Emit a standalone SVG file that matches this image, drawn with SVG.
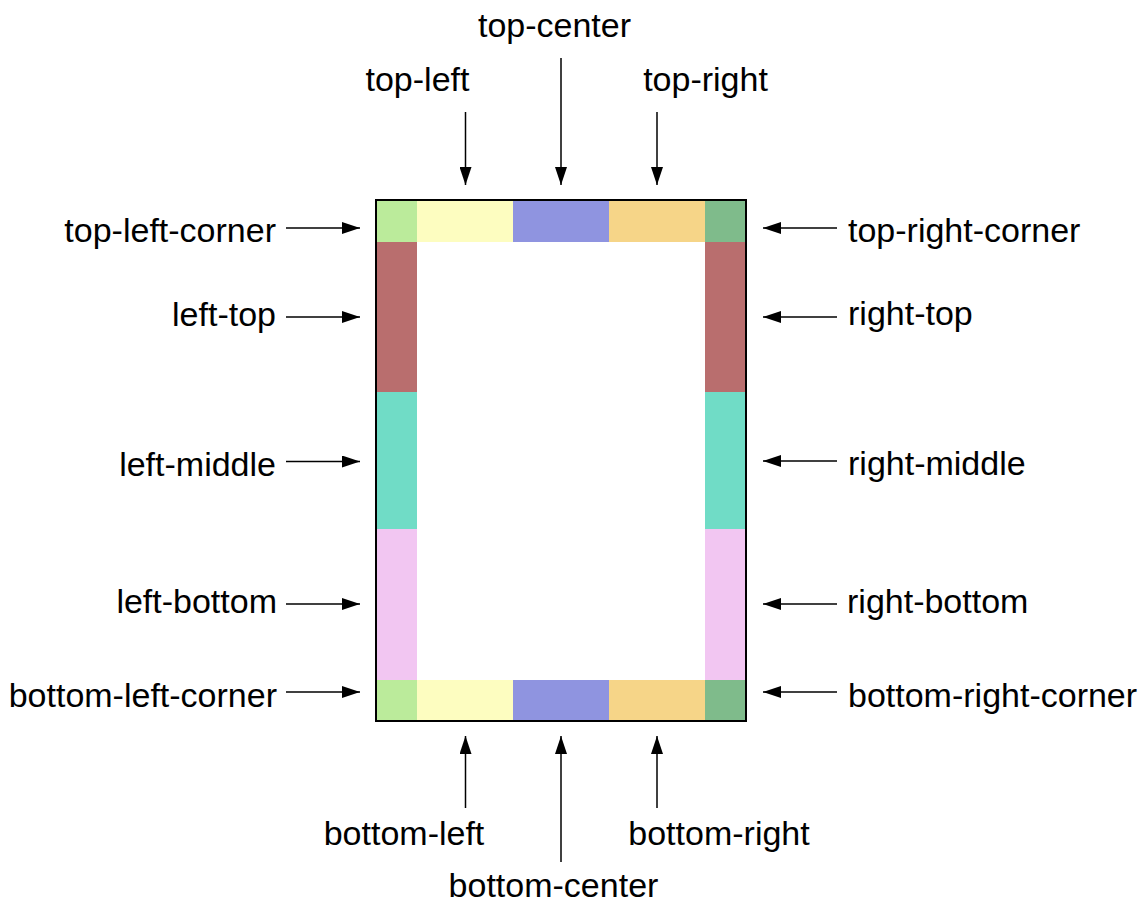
<svg xmlns="http://www.w3.org/2000/svg" width="1144" height="902" viewBox="0 0 1144 902">
<style>
text{font-family:"Liberation Sans",Arial,sans-serif;font-size:34px;fill:#000}
.c line{stroke:#000;stroke-width:1.5;marker-end:url(#ah)}
.e{text-anchor:end}
.m{text-anchor:middle}
</style>
<defs>
<marker id="ah" markerUnits="userSpaceOnUse" markerWidth="18" markerHeight="12" refX="18" refY="6" orient="auto">
<path d="M0,0 L18,6 L0,12 z" fill="#000"/>
</marker>
</defs>
<rect width="1144" height="902" fill="#fff"/>
<g id="box">
<rect id="top-left-corner" x="377" y="201" width="40" height="41" fill="#bbeb9b"/>
<rect id="top-left" x="417" y="201" width="96" height="41" fill="#fdfdc0"/>
<rect id="top-center" x="513" y="201" width="96" height="41" fill="#8f94e0"/>
<rect id="top-right" x="609" y="201" width="96" height="41" fill="#f6d588"/>
<rect id="top-right-corner" x="705" y="201" width="40" height="41" fill="#7fbb8b"/>
<rect id="left-top" x="377" y="242" width="40" height="150" fill="#b96e6e"/>
<rect id="left-middle" x="377" y="392" width="40" height="137" fill="#70dcc6"/>
<rect id="left-bottom" x="377" y="529" width="40" height="151" fill="#f2c6f2"/>
<rect id="right-top" x="705" y="242" width="40" height="150" fill="#b96e6e"/>
<rect id="right-middle" x="705" y="392" width="40" height="137" fill="#70dcc6"/>
<rect id="right-bottom" x="705" y="529" width="40" height="151" fill="#f2c6f2"/>
<rect id="bottom-left-corner" x="377" y="680" width="40" height="40" fill="#bbeb9b"/>
<rect id="bottom-left" x="417" y="680" width="96" height="40" fill="#fdfdc0"/>
<rect id="bottom-center" x="513" y="680" width="96" height="40" fill="#8f94e0"/>
<rect id="bottom-right" x="609" y="680" width="96" height="40" fill="#f6d588"/>
<rect id="bottom-right-corner" x="705" y="680" width="40" height="40" fill="#7fbb8b"/>
<rect x="376" y="200" width="370" height="521" fill="none" stroke="#000" stroke-width="2"/>
</g>
<g id="connectors" class="c">
<line x1="465.5" y1="112" x2="465.5" y2="185"/>
<line x1="561" y1="58" x2="561" y2="185"/>
<line x1="657" y1="112" x2="657" y2="185"/>
<line x1="465.5" y1="808" x2="465.5" y2="736"/>
<line x1="561" y1="862" x2="561" y2="736"/>
<line x1="657" y1="808" x2="657" y2="736"/>
<line x1="286" y1="228" x2="360" y2="228"/>
<line x1="286" y1="317" x2="360" y2="317"/>
<line x1="286" y1="461.5" x2="360" y2="461.5"/>
<line x1="286" y1="604" x2="360" y2="604"/>
<line x1="286" y1="692" x2="360" y2="692"/>
<line x1="837" y1="228" x2="763" y2="228"/>
<line x1="837" y1="317" x2="763" y2="317"/>
<line x1="837" y1="461" x2="763" y2="461"/>
<line x1="837" y1="604" x2="763" y2="604"/>
<line x1="837" y1="692" x2="763" y2="692"/>
</g>
<g id="labels">
<text id="t-top-center" class="m" x="554.5" y="36.5">top-center</text>
<text id="t-top-left" class="m" x="417.5" y="90.5">top-left</text>
<text id="t-top-right" class="m" x="705.5" y="90.5">top-right</text>
<text id="t-bottom-left" class="m" x="404" y="844.5">bottom-left</text>
<text id="t-bottom-right" class="m" x="719" y="844.5">bottom-right</text>
<text id="t-bottom-center" class="m" x="553.5" y="897">bottom-center</text>
<text id="t-top-left-corner" class="e" x="276" y="242">top-left-corner</text>
<text id="t-left-top" class="e" x="276" y="325.5">left-top</text>
<text id="t-left-middle" class="e" x="276" y="475.5">left-middle</text>
<text id="t-left-bottom" class="e" x="277" y="613">left-bottom</text>
<text id="t-bottom-left-corner" class="e" x="277" y="707">bottom-left-corner</text>
<text id="t-top-right-corner" x="848" y="242">top-right-corner</text>
<text id="t-right-top" x="848" y="325">right-top</text>
<text id="t-right-middle" x="848" y="475">right-middle</text>
<text id="t-right-bottom" x="847" y="612.5">right-bottom</text>
<text id="t-bottom-right-corner" x="848" y="707">bottom-right-corner</text>
</g>
</svg>
